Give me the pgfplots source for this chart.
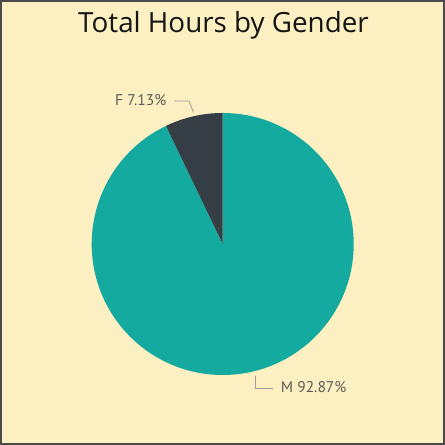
\documentclass[border=0pt]{standalone}
\usepackage{pgfplots}
\pgfplotsset{compat=1.18}
\usepackage{fontspec}
\newfontfamily\titlefont{Open Sans}
\newfontfamily\labelfont{PT Sans}
\definecolor{bgYellow}{HTML}{FCEFC1}
\definecolor{frameGray}{HTML}{4A4A48}
\definecolor{colM}{HTML}{14AA9F}
\definecolor{colF}{HTML}{353D45}
\definecolor{labGray}{HTML}{5E5B57}
\definecolor{leadGray}{HTML}{A29F98}

% share of total hours, percent
\def\valF{7.13}
\def\valM{92.87}

\begin{document}
\begin{tikzpicture}
\begin{axis}[
  x=1bp, y=1bp,
  xmin=0, xmax=445, ymin=0, ymax=445,
  hide axis,
  clip=false,
]
%--- panel
\fill[bgYellow] (axis cs:0,0) rectangle (axis cs:445,445);
\draw[frameGray, line width=1.6bp] (axis cs:0.8,0.8) rectangle (axis cs:444.2,444.2);

%--- title
\node[anchor=base, font=\titlefont\fontsize{27.8bp}{30bp}\selectfont, text=black!92]
  at (axis cs:223.5,412) {Total Hours by Gender};

%--- slices (M clockwise from 12 o'clock, F counter-clockwise)
\fill[colM] (axis cs:222.7,201) -- ++(90:131bp)
  arc[start angle=90, end angle={90-\valM*3.6}, radius=131bp] -- cycle;
\fill[colF] (axis cs:222.7,201) -- ++(90:131bp)
  arc[start angle=90, end angle={90+\valF*3.6}, radius=131bp] -- cycle;

%--- labels with leader lines
\draw[leadGray, line width=0.8bp] (axis cs:174,344) -- (axis cs:189,344) -- (axis cs:193.5,332.5);
\node[anchor=base east, inner sep=0pt, font=\labelfont\fontsize{15.5bp}{17bp}\selectfont, text=labGray]
  at (axis cs:166.5,339) {F 7.13\%};

\draw[leadGray, line width=0.8bp] (axis cs:255,69) -- (axis cs:255,57) -- (axis cs:273,57);
\node[anchor=base west, inner sep=0pt, font=\labelfont\fontsize{15.5bp}{17bp}\selectfont, text=labGray]
  at (axis cs:280.7,52) {M 92.87\%};
\end{axis}
\end{tikzpicture}
\end{document}
